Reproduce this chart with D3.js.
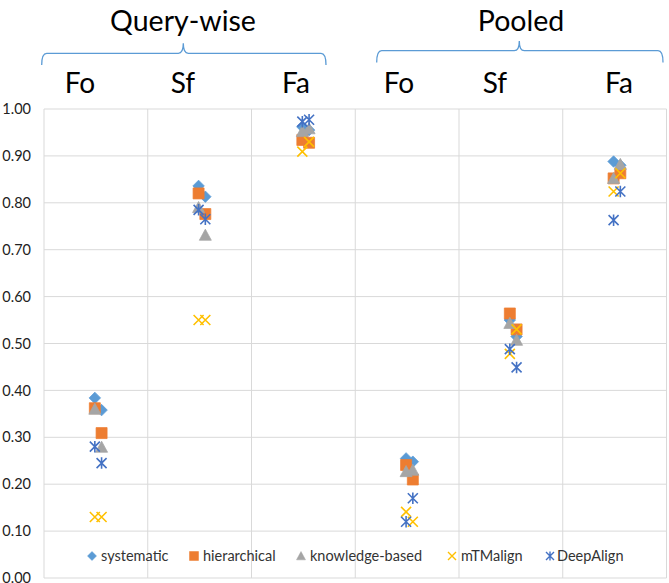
<!DOCTYPE html>
<html>
<head>
<meta charset="utf-8">
<script src="https://cdn.jsdelivr.net/npm/d3@7"></script>
<style>
  html, body { margin: 0; padding: 0; background: #fff; }
  svg { display: block; font-family: Lato, "Open Sans", sans-serif; }
</style>
</head>
<body>
<svg id="chart" width="669" height="583"></svg>
<script>
// werte, je spalte zwei punkte
const groups = ["Query-wise", "Pooled"];
const columns = ["Fo", "Sf", "Fa", "Fo", "Sf", "Fa"];
const yTicks = [0, 0.1, 0.2, 0.3, 0.4, 0.5, 0.6, 0.7, 0.8, 0.9, 1.0];

const systematic     = [[0.384, 0.358], [0.836, 0.813], [0.962, 0.955], [0.255, 0.248], [0.55, 0.515], [0.888, 0.88]];
const hierarchical   = [[0.362, 0.309], [0.82, 0.776], [0.934, 0.928], [0.241, 0.21], [0.564, 0.53], [0.852, 0.863]];
const knowledgeBased = [[0.36, 0.279], [0.79, 0.731], [0.952, 0.958], [0.227, 0.23], [0.543, 0.507], [0.852, 0.882]];
const mTMalign       = [[0.13, 0.13], [0.55, 0.55], [0.909, 0.93], [0.141, 0.12], [0.478, 0.53], [0.824, 0.863]];
const deepAlign      = [[0.28, 0.245], [0.785, 0.765], [0.973, 0.977], [0.12, 0.17], [0.488, 0.449], [0.763, 0.824]];

const seriesNames = ["systematic", "hierarchical", "knowledge-based", "mTMalign", "DeepAlign"];
const seriesValues = [systematic, hierarchical, knowledgeBased, mTMalign, deepAlign];
const seriesColors = ["#5B9BD5", "#ED7D31", "#A5A5A5", "#FFC000", "#4472C4"];
const seriesShapes = ["diamond", "square", "triangle", "x", "star"];

const svg = d3.select("#chart");

const x = d3.scaleLinear().domain([0, columns.length]).range([44, 666.5]);
const y = d3.scaleLinear().domain([0, 1]).range([578, 109]);

// gitter
const grid = svg.append("g");
grid.selectAll("line.h")
  .data(yTicks)
  .join("line")
  .attr("x1", x(0)).attr("x2", x(columns.length))
  .attr("y1", d => y(d)).attr("y2", d => y(d))
  .attr("stroke", "#d9d9d9").attr("stroke-width", 1);
grid.selectAll("line.v")
  .data(d3.range(columns.length + 1))
  .join("line")
  .attr("x1", d => x(d)).attr("x2", d => x(d))
  .attr("y1", y(0)).attr("y2", y(1))
  .attr("stroke", "#d9d9d9").attr("stroke-width", 1);

// y achse
const yAxis = svg.append("g")
  .attr("transform", `translate(${x(0)},0)`)
  .call(d3.axisLeft(y).tickValues(yTicks).tickFormat(d3.format(".2f")).tickSize(0).tickPadding(13));
yAxis.select(".domain").remove();
yAxis.selectAll("text")
  .attr("fill", "#222")
  .style("font-size", "14.5px")
  .style("font-family", "Lato, sans-serif");

// marker
function markerPath(shape, s) {
  const h = s / 2;
  switch (shape) {
    case "diamond": return `M0,${-h}L${h},0L0,${h}L${-h},0Z`;
    case "square": return `M${-h},${-h}H${h}V${h}H${-h}Z`;
    case "triangle": return `M0,${-h}L${h},${h * 0.85}L${-h},${h * 0.85}Z`;
    case "x": return `M${-h},${-h}L${h},${h}M${h},${-h}L${-h},${h}`;
    case "star": return `M${-h},${-h}L${h},${h}M${h},${-h}L${-h},${h}M0,${-h * 1.15}V${h * 1.15}`;
  }
}
const markerSize = { diamond: 11.5, square: 11, triangle: 12, x: 10, star: 10 };
const pointOffsets = [0.49, 0.555];

seriesNames.forEach((name, si) => {
  const shape = seriesShapes[si];
  const color = seriesColors[si];
  const pts = [];
  seriesValues[si].forEach((pair, ci) => {
    pair.forEach((v, k) => pts.push({ cx: ci + pointOffsets[k], v }));
  });
  const filled = shape === "diamond" || shape === "square" || shape === "triangle";
  svg.append("g").selectAll("path")
    .data(pts)
    .join("path")
    .attr("transform", d => `translate(${x(d.cx)},${y(d.v)})`)
    .attr("d", markerPath(shape, markerSize[shape]))
    .attr("fill", filled ? color : "none")
    .attr("stroke", color)
    .attr("stroke-width", filled ? 0.75 : 1.6);
});

// legende
const legendX = [92, 194, 301, 452, 550];
const legend = svg.append("g").attr("transform", "translate(0,556)");
seriesNames.forEach((name, i) => {
  const shape = seriesShapes[i];
  const filled = shape === "diamond" || shape === "square" || shape === "triangle";
  legend.append("path")
    .attr("transform", `translate(${legendX[i]},0)`)
    .attr("d", markerPath(shape, shape === "star" || shape === "x" ? 8 : 9))
    .attr("fill", filled ? seriesColors[i] : "none")
    .attr("stroke", seriesColors[i])
    .attr("stroke-width", filled ? 0.5 : 1.4);
  legend.append("text")
    .attr("x", legendX[i] + (shape === "star" ? 7 : 9))
    .attr("y", 0)
    .attr("dy", "0.35em")
    .attr("fill", "#333")
    .style("font-size", "14.5px")
    .text(name);
});

// gruppen-klammern oben
const braces = [
  { x0: 41.7, x1: 326, xc: 183.3, ym: 53.3, tip: 43.3, end: 65 },
  { x0: 376.7, x1: 663, xc: 519.3, ym: 50.7, tip: 41, end: 62.5 }
];
const r = 5;
svg.append("g").selectAll("path")
  .data(braces)
  .join("path")
  .attr("d", b => `M${b.x0},${b.end}Q${b.x0},${b.ym} ${b.x0 + r},${b.ym}H${b.xc - r}Q${b.xc},${b.ym} ${b.xc},${b.tip}` +
                  `Q${b.xc},${b.ym} ${b.xc + r},${b.ym}H${b.x1 - r}Q${b.x1},${b.ym} ${b.x1},${b.end}`)
  .attr("fill", "none")
  .attr("stroke", "#5B9BD5")
  .attr("stroke-width", 1.3);

const groupX = [183, 521];
svg.append("g").selectAll("text")
  .data(groups)
  .join("text")
  .attr("x", (d, i) => groupX[i])
  .attr("y", 31)
  .attr("text-anchor", "middle")
  .attr("fill", "#000")
  .style("font-size", "28.5px")
  .text(d => d);

const colLabelX = [80, 183, 296, 399, 495, 619];
svg.append("g").selectAll("text")
  .data(columns)
  .join("text")
  .attr("x", (d, i) => colLabelX[i])
  .attr("y", 92.5)
  .attr("text-anchor", "middle")
  .attr("fill", "#000")
  .style("font-size", "28px")
  .text(d => d);
</script>
</body>
</html>
